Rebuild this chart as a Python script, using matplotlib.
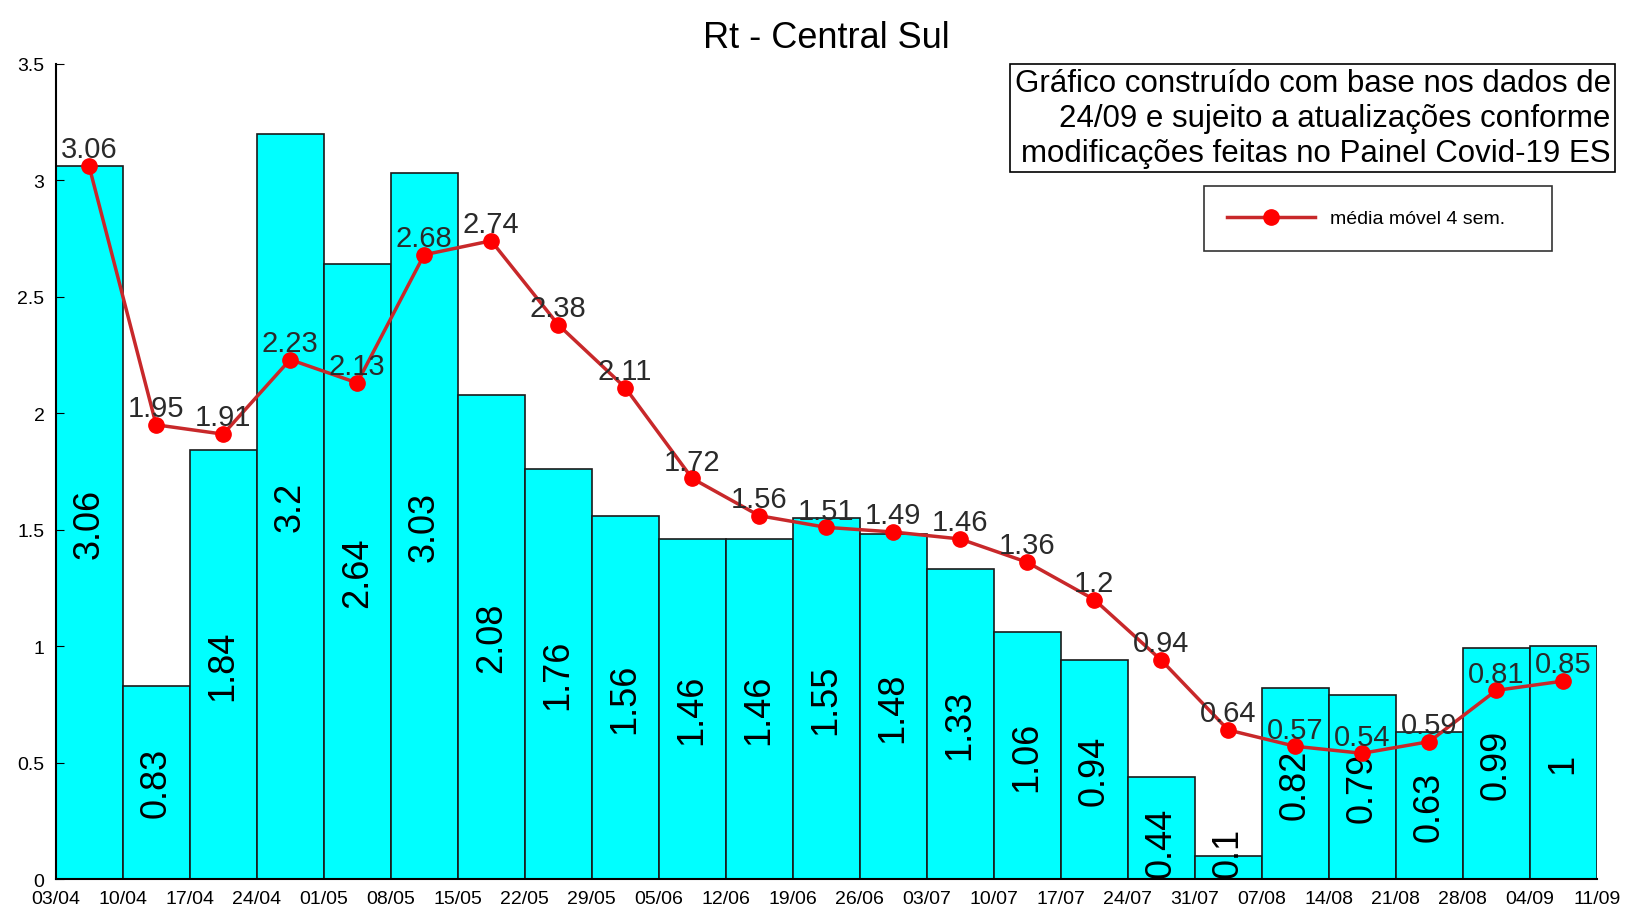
import numpy as np
import matplotlib.pyplot as plt

plt.rcParams["font.family"] = ["Liberation Sans", "DejaVu Sans"]

weeks = ["03/04", "10/04", "17/04", "24/04", "01/05", "08/05", "15/05", "22/05",
         "29/05", "05/06", "12/06", "19/06", "26/06", "03/07", "10/07", "17/07",
         "24/07", "31/07", "07/08", "14/08", "21/08", "28/08", "04/09", "11/09"]

rt = [3.06, 0.83, 1.84, 3.2, 2.64, 3.03, 2.08, 1.76, 1.56, 1.46, 1.46, 1.55,
      1.48, 1.33, 1.06, 0.94, 0.44, 0.1, 0.82, 0.79, 0.63, 0.99, 1]

rt_mm4 = [3.06, 1.95, 1.91, 2.23, 2.13, 2.68, 2.74, 2.38, 2.11, 1.72, 1.56, 1.51,
          1.49, 1.46, 1.36, 1.2, 0.94, 0.64, 0.57, 0.54, 0.59, 0.81, 0.85]

note = ("Gráfico construído com base nos dados de\n"
        "24/09 e sujeito a atualizações conforme\n"
        "modificações feitas no Painel Covid-19 ES")

fig = plt.figure(figsize=(16.36, 9.12), dpi=100)
ax = fig.add_axes([0.034, 0.035, 0.942, 0.894])

x = np.arange(len(rt)) + 0.5
ax.bar(x, rt, width=1.0, color="#00ffff", edgecolor="#1a1a1a", linewidth=1.2, zorder=1)

# value inside the bar, centred; short bars get the label sitting on the axis
for xi, v in zip(x, rt):
    if v / 2 < 0.3:
        ax.text(xi, 0.01, f"{v:g}", rotation=90, ha="center", va="bottom",
                fontsize=26, color="black", zorder=2)
    else:
        ax.text(xi, v / 2, f"{v:g}", rotation=90, ha="center", va="center",
                fontsize=26, color="black", zorder=2)

ax.plot(x, rt_mm4, color="#c8282a", linewidth=2.5, marker="o", markersize=11,
        markerfacecolor="#ff0000", markeredgecolor="#ff0000", zorder=3,
        label="média móvel 4 sem.")

for xi, v in zip(x, rt_mm4):
    ax.annotate(f"{v:g}", (xi, v), xytext=(0, 2), textcoords="offset points",
                ha="center", va="bottom", fontsize=21, color="#2a2a2a", zorder=4)

ax.set_xlim(0, len(rt))
ax.set_ylim(0, 3.5)
ax.set_xticks(np.arange(len(weeks)))
ax.set_xticklabels(weeks, fontsize=14)
ax.set_yticks(np.arange(0, 3.51, 0.5))
ax.set_yticklabels(["0", "0.5", "1", "1.5", "2", "2.5", "3", "3.5"], fontsize=14)
ax.tick_params(axis="x", length=0, pad=8)
ax.tick_params(axis="y", direction="in", length=6, pad=8)
for s in ["top", "right"]:
    ax.spines[s].set_visible(False)
ax.spines["left"].set_linewidth(1.5)
ax.spines["bottom"].set_linewidth(1.5)

ax.set_title("Rt - Central Sul", fontsize=26, pad=12)

fig.text(0.9845, 0.8695, note, ha="right", va="center", fontsize=22.5, linespacing=1.2,
         bbox=dict(boxstyle="square,pad=0.15", facecolor="white", edgecolor="black", linewidth=1.2))

leg = ax.legend(loc="upper left", bbox_to_anchor=(0.745, 0.8495, 0.226, 0.0), mode="expand",
                fontsize=14, frameon=True, fancybox=False, edgecolor="black",
                handlelength=4.5, borderpad=1.2, borderaxespad=0)
leg.get_frame().set_linewidth(1.2)

plt.savefig("out.png", dpi=100)
